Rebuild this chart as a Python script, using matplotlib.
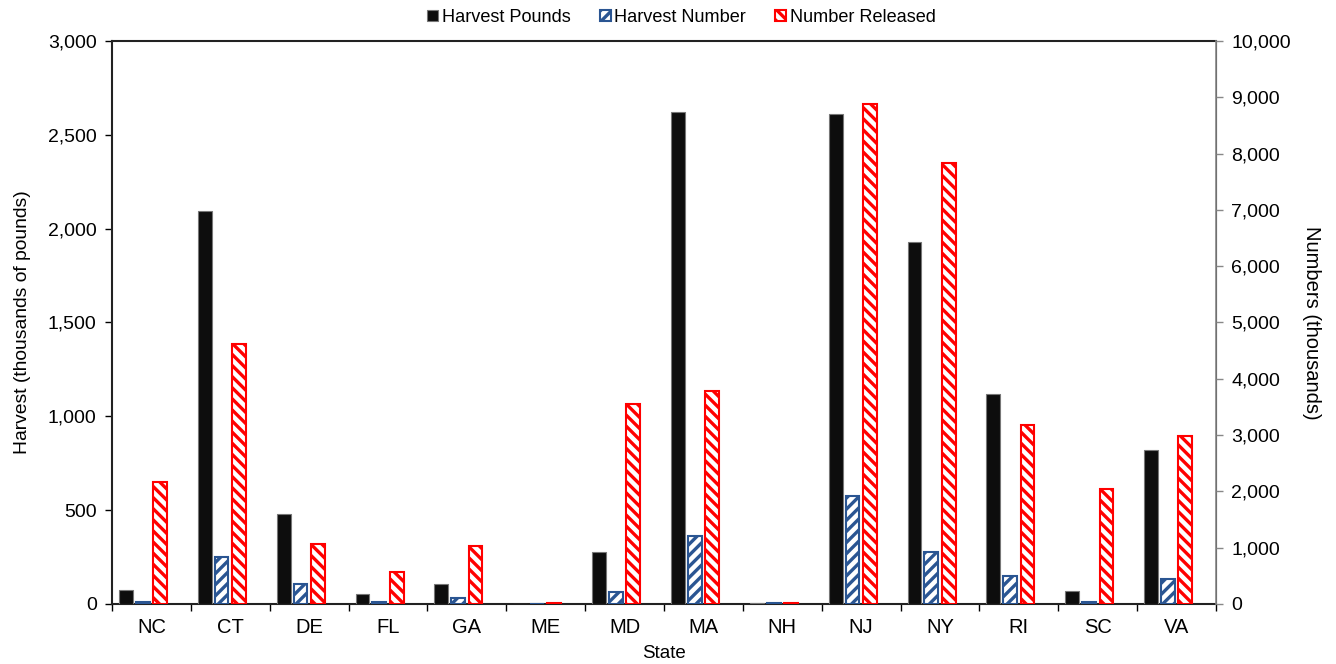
import matplotlib

matplotlib.use("Agg")
import matplotlib.pyplot as plt
import numpy as np
from matplotlib.ticker import FuncFormatter

states = ["NC", "CT", "DE", "FL", "GA", "ME", "MD", "MA", "NH", "NJ", "NY", "RI", "SC", "VA"]
harvest_pounds = [75, 2094, 478, 53, 108, 0, 275, 2621, 3, 2612, 1929, 1119, 71, 820]
harvest_number = [40, 829, 360, 40, 112, 0, 208, 1202, 10, 1913, 918, 503, 40, 439]
number_released = [2172, 4624, 1066, 563, 1025, 12, 3552, 3778, 12, 8886, 7838, 3185, 2037, 2979]

plt.rcParams.update({
    "font.family": ["Liberation Sans", "DejaVu Sans"],
    "font.size": 12,
    "hatch.linewidth": 2.4,
})

fig = plt.figure(figsize=(13.36, 6.64), dpi=100)
ax = fig.add_axes([0.0838, 0.0904, 0.8264, 0.8479])
ax2 = ax.twinx()

x = np.arange(len(states))
w = 0.175
ax.bar(x - 0.323, harvest_pounds, w, color="#0d0d0d", edgecolor="#777777",
       linewidth=0.8, label="Harvest Pounds", zorder=3)
ax2.bar(x - 0.11, harvest_number, w, color="white", edgecolor="#2a5592",
        hatch="///", linewidth=1.5, label="Harvest Number", zorder=3)
ax2.bar(x + 0.11, number_released, w, color="white", edgecolor="#ff0000",
        hatch="\\\\\\", linewidth=1.5, label="Number Released", zorder=3)

ax.set_xlim(-0.5, len(states) - 0.5)
ax.set_ylim(0, 3000)
ax2.set_ylim(0, 10000)
ax.set_yticks(np.arange(0, 3001, 500))
ax2.set_yticks(np.arange(0, 10001, 1000))
fmt = FuncFormatter(lambda v, p: f"{v:,.0f}")
ax.yaxis.set_major_formatter(fmt)
ax2.yaxis.set_major_formatter(fmt)

ax.set_xticks(x)
ax.set_xticklabels(states, fontsize=14.5)
ax.set_xticks(np.arange(-0.5, len(states)), minor=True)
ax.tick_params(axis="x", which="major", length=0, pad=10)
ax.tick_params(axis="x", which="minor", length=5, width=1, direction="out")
ax.tick_params(axis="y", length=5, width=1, direction="out", labelsize=14, pad=6)
ax2.tick_params(axis="y", length=5, width=1, direction="out", labelsize=14,
                color="#888888", pad=6)

for s in ["left", "bottom", "top"]:
    ax.spines[s].set_linewidth(1.5)
    ax.spines[s].set_color("#222222")
ax2.spines["right"].set_color("#888888")
ax2.spines["right"].set_linewidth(1.2)
ax2.spines["top"].set_visible(False)
ax2.spines["left"].set_visible(False)
ax2.spines["bottom"].set_visible(False)

ax.set_xlabel("State", fontsize=13.5, labelpad=6)
ax.set_ylabel("Harvest (thousands of pounds)", fontsize=13.9, labelpad=12)
ax2.set_ylabel("Numbers (thousands)", fontsize=14.5, rotation=270, labelpad=22)

h1, l1 = ax.get_legend_handles_labels()
h2, l2 = ax2.get_legend_handles_labels()
fig.legend(h1 + h2, l1 + l2, loc="center", bbox_to_anchor=(0.51, 0.974), ncol=3,
           frameon=False, fontsize=13.1, handlelength=0.6, handleheight=0.6,
           handletextpad=0.2, columnspacing=1.6)

fig.savefig("out.png", dpi=100)
